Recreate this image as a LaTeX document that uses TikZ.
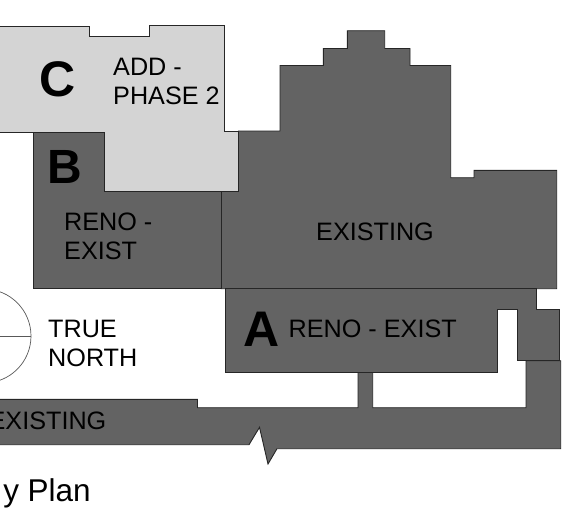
\documentclass[tikz,border=0pt]{standalone}
\usepackage{fontspec}
\setmainfont{Liberation Sans}
\usepackage{xcolor}
\definecolor{zonedark}{HTML}{636363}
\definecolor{zonelight}{HTML}{D4D4D4}
\tikzset{
    zone/.style = {draw = black!85, line width = 0.9pt, line join = miter},
    label/.style = {anchor = base west, inner sep = 0pt, align = left, text = black, font = \fontsize{25.2}{29}\selectfont},
    letter/.style = {anchor = base west, inner sep = 0pt, text = black, font = \fontsize{50}{50}\selectfont\bfseries}
}

\begin{document}
\begin{tikzpicture}[x = 1pt, y = -1pt]
    \useasboundingbox (0,0) rectangle (567,520);
    \clip (0,0) rectangle (567,520);
    % existing block
    \draw[zone, fill = zonedark] (221,191) -- (238.5,131) -- (280,131) -- (280,65.5) -- (323.3,65.5) -- (323.3,48.5) -- (347.3,48.5) -- (347.3,30.7) -- (384.7,30.7) -- (384.7,48.5) -- (410,48.5) -- (410,65.5) -- (450.7,65.5) -- (450.7,177.7) -- (474,177.7) -- (474,170.3) -- (556.7,170.3) -- (556.7,288.7) -- (221,288.7) -- cycle;
    % zone b
    \draw[zone, fill = zonedark] (33,125) -- (33,288.7) -- (221,288.7) -- (221,125) -- cycle;
    % corridor
    \draw[zone, fill = zonedark] (-5,399.3) -- (197.5,399.3) -- (197.5,407.7) -- (358,407.7) -- (358,372) -- (372.7,372) -- (372.7,407.7) -- (526,407.7) -- (526,360.7) -- (560.7,360.7) -- (560.7,448.7) -- (277,448.7) -- (268,464) -- (259.5,427.3) -- (249,444.7) -- (-5,444.7) -- cycle;
    % zone a
    \draw[zone, fill = zonedark] (225,288.7) -- (536.7,288.7) -- (536.7,309) -- (559.7,309) -- (559.7,360.7) -- (517.3,360.7) -- (517.3,309) -- (497.7,309) -- (497.7,372) -- (225,372) -- cycle;
    % zone c
    \draw[zone, fill = zonelight] (-5,26) -- (89,26) -- (89,36.5) -- (149,36.5) -- (149,25.5) -- (224,25.5) -- (224,131) -- (238.5,131) -- (238.5,191) -- (104.5,191) -- (104.5,132) -- (-5,132) -- cycle;
    % north mark
    \draw[black!65, line width = 0.7pt] (-16,336) circle (47);
    \draw[black!65, line width = 0.7pt] (-16,336) -- (31,336);
    \node[letter] (zoneC) at (39,96) {C};
    \node[letter, font = \fontsize{48}{48}\selectfont\bfseries] (zoneB) at (47.5,183) {B};
    \node[letter] (zoneA) at (243,346) {A};
    \node[label] (addphase) at (113,104.3) {ADD -\\PHASE 2};
    \node[label] (renoB) at (64,259) {RENO -\\EXIST};
    \node[label] (existing) at (316,240.7) {EXISTING};
    \node[label] (renoA) at (288.5,337.7) {RENO - EXIST};
    \node[label] (north) at (48,366) {TRUE\\NORTH};
    \node[label, anchor = base east] (corridor) at (106.5,429.3) {EXISTING};
    \node[label, anchor = base east, font = \fontsize{31.5}{31.5}\selectfont] (title) at (91,501.7) {y Plan};
\end{tikzpicture}
\end{document}
